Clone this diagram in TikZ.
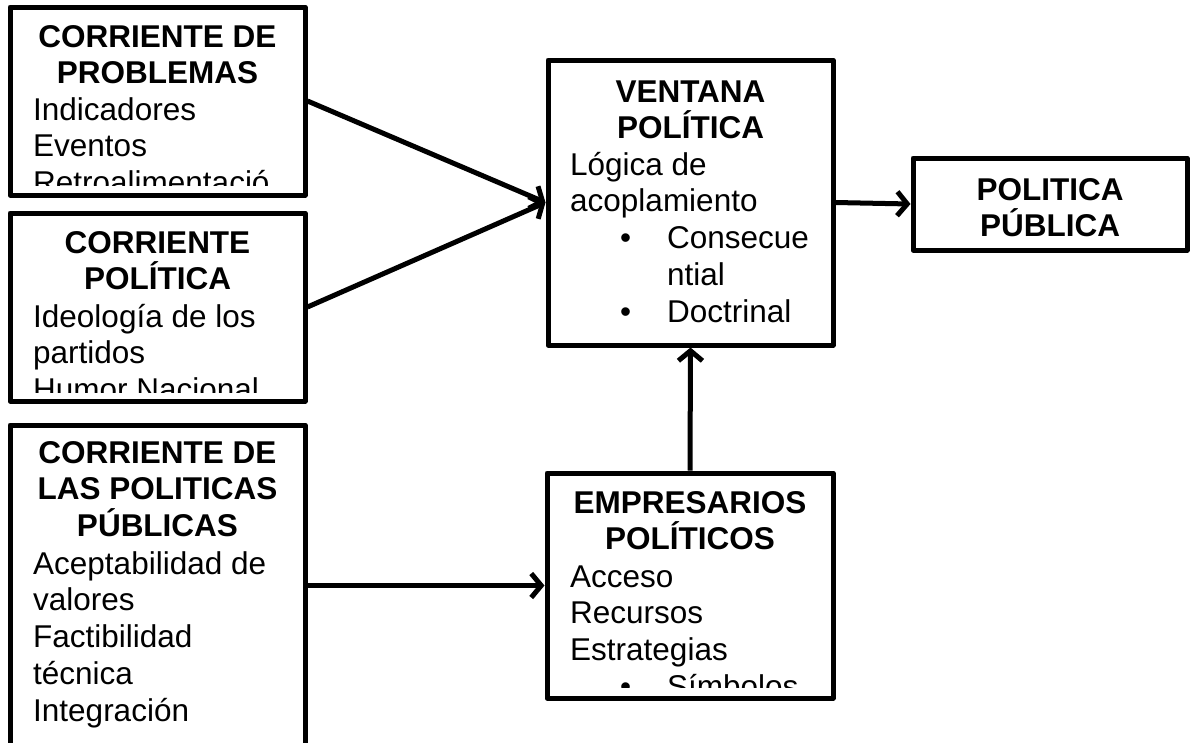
\documentclass[tikz,border=0pt]{standalone}
\usepackage{fontspec}
\setmainfont{Liberation Sans}
\usetikzlibrary{arrows.meta}

\newcommand{\boxfont}{\fontsize{31.5}{36.8}\selectfont\lineskiplimit=-\maxdimen}
\newcommand{\itemdot}[1]{\hspace*{50pt}\makebox[47pt][l]{•}#1}

\tikzset{
  box/.style={draw, line width=5pt, line join=round, inner sep=0pt},
  head/.style={font=\boxfont\bfseries, align=center, anchor=north, inner sep=0pt},
  body/.style={font=\boxfont, align=left, anchor=north west, inner sep=0pt},
  flow/.style={->, line width=5pt, >={Straight Barb[length=10pt,width=24pt]}}
}

\begin{document}
\begin{tikzpicture}[x=1pt, y=-1pt]
        \clip (0,0) rectangle (1191,742);

        % Boxes
        \node [box, minimum width=295pt, minimum height=188pt] (prob) at (157.5,101) {};
        \node [box, minimum width=295pt, minimum height=188pt] (pol) at (157.5,307) {};
        \node [box, minimum width=295pt, minimum height=321pt] (polpub) at (157.5,585.5) {};
        \node [box, minimum width=285pt, minimum height=285pt] (vent) at (690.5,202.5) {};
        \node [box, minimum width=286pt, minimum height=225pt] (emp) at (690,585.5) {};
        \node [box, minimum width=274pt, minimum height=92pt] (pub) at (1050,204) {};

        % Texts, cut at the foot of the box
        \begin{scope}
            \clip (prob.north west) rectangle ([yshift=12pt]prob.south east);
            \node [head] (probhead) at (157.5,21.2) {\strut CORRIENTE DE\\PROBLEMAS};
            \node [body] (probtext) at (33,94.2) {\strut Indicadores\\Eventos\\Retroalimentació\\n};
        \end{scope}
        \begin{scope}
            \clip (pol.north west) rectangle ([yshift=11pt]pol.south east);
            \node [head] (polhead) at (157.5,227.2) {\strut CORRIENTE\\POLÍTICA};
            \node [body] (poltext) at (33,301.2) {\strut Ideología de los\\partidos\\Humor Nacional};
        \end{scope}
        \node [head] (polpubhead) at (157.5,437.2) {\strut CORRIENTE DE\\LAS POLITICAS\\PÚBLICAS};
        \node [body] (polpubtext) at (33,548.2) {\strut Aceptabilidad de\\valores\\Factibilidad\\técnica\\Integración};
        \node [head] (venthead) at (690.5,76.2) {\strut VENTANA\\POLÍTICA};
        \node [body] (venttext) at (570,149.2) {\strut Lógica de\\acoplamiento\\\itemdot{Consecue}\\\hspace*{97pt}ntial\\\itemdot{Doctrinal}};
        \begin{scope}
            \clip (emp.north west) rectangle ([yshift=13pt]emp.south east);
            \node [head] (emphead) at (690,487.2) {\strut EMPRESARIOS\\POLÍTICOS};
            \node [body] (emptext) at (570,561.2) {\strut Acceso\\Recursos\\Estrategias\\\itemdot{Símbolos}};
        \end{scope}
        \node [head] (pubhead) at (1050,174.2) {\strut POLITICA\\PÚBLICA};

        % Arrows
        \draw [flow] (prob.east) -- (vent.west);
        \draw [flow] (pol.east) -- (vent.west);
        \draw [flow] (vent.east) -- (pub.west);
        \draw [flow] (emp.north) -- (vent.south);
        \draw [flow] (polpub.east) -- (emp.west);
    \end{tikzpicture}
\end{document}
